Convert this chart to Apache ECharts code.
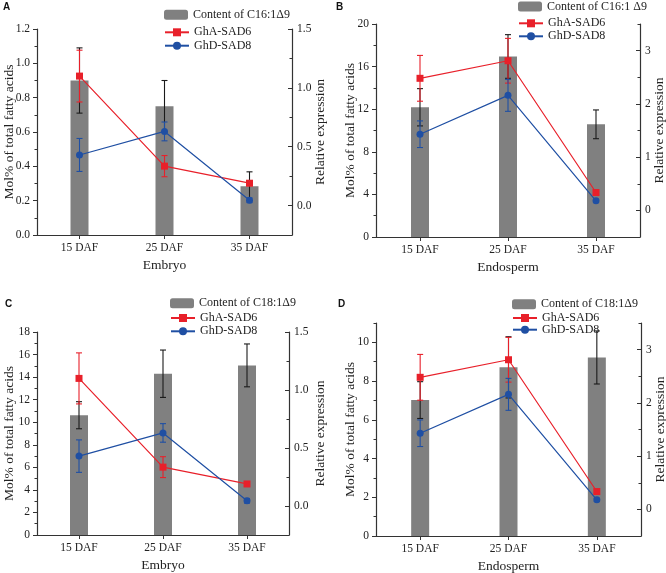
<!DOCTYPE html>
<html>
<head>
<meta charset="utf-8">
<script src="https://cdn.jsdelivr.net/npm/echarts@6.0.0/dist/echarts.min.js"></script>
<style>
  html, body { margin: 0; padding: 0; background: #fff; }
  #chart { width: 666px; height: 573px; }
</style>
</head>
<body>
<div id="chart"></div>
<script>
// categories
const cats = ['15 DAF', '25 DAF', '35 DAF'];

// bars (Mol% of total fatty acids) and their error
const barA = [0.90, 0.75, 0.284];
const barAErr = [0.19, 0.15, 0.084];
const barB = [12.18, 16.95, 10.58];
const barBErr = [1.75, 2.05, 1.35];
const barC = [10.62, 14.3, 15.04];
const barCErr = [1.2, 2.1, 1.9];
const barD = [7.02, 8.71, 9.22];
const barDErr = [0.95, 1.58, 1.37];

// relative expression, embryo (A, C)
const embA6 = [1.10, 0.335, 0.19];
const embA6Err = [0.22, 0.09, 0.02];
const embD8 = [0.43, 0.63, 0.045];
const embD8Err = [0.14, 0.08, 0.02];

// relative expression, endosperm (B, D)
const endA6 = [2.48, 2.81, 0.335];
const endA6Err = [0.43, 0.42, 0.03];
const endD8 = [1.43, 2.16, 0.18];
const endD8Err = [0.25, 0.30, 0.03];

// tick values
const ticksA = [0, 0.2, 0.4, 0.6, 0.8, 1.0, 1.2];
const ticksB = [0, 4, 8, 12, 16, 20];
const ticksC = [0, 2, 4, 6, 8, 10, 12, 14, 16, 18];
const ticksD = [0, 2, 4, 6, 8, 10];
const ticksEmb = [0, 0.5, 1.0, 1.5];
const ticksEnd = [0, 1, 2, 3];

const FONT = 'Liberation Serif';
const TXT = '#222';
const RED = '#e8202a';
const BLUE = '#1f4fa3';
const GRAY = '#808080';

const range = (a, b, s) => { const r = []; for (let v = a; v <= b + 1e-9; v += s) r.push(+v.toFixed(4)); return r; };

const panels = [
  { letter: 'A', grid: { left: 37, right: 374, top: 29, bottom: 338 },
    lMin: 0, lMax: 1.2, lTicks: ticksA, lMinor: range(0, 1.2, 0.1), lDec: 1,
    rMin: -0.25, rMax: 1.5, rTicks: ticksEmb, rMinor: range(-0.25, 1.5, 0.25), rDec: 1,
    bar: barA, barErr: barAErr, a6: embA6, a6Err: embA6Err, d8: embD8, d8Err: embD8Err,
    barName: 'Content of C16:1Δ9', xName: 'Embryo',
    lGap: 21, rGap: 21, leg: { left: 164, rows: [15.8, 33.3, 46.7] }, title: [3, 2] },
  { letter: 'B', grid: { left: 376, right: 26, top: 24, bottom: 336 },
    lMin: 0, lMax: 20, lTicks: ticksB, lMinor: range(0, 20, 2), lDec: 0,
    rMin: -0.5, rMax: 3.5, rTicks: ticksEnd, rMinor: range(-0.5, 3.5, 0.5), rDec: 0,
    bar: barB, barErr: barBErr, a6: endA6, a6Err: endA6Err, d8: endD8, d8Err: endD8Err,
    barName: 'Content of C16:1 Δ9', xName: 'Endosperm',
    lGap: 19, rGap: 12, leg: { left: 518, rows: [7.5, 24.3, 37.3] }, title: [336, 2] },
  { letter: 'C', grid: { left: 37, right: 377, top: 332, bottom: 38 },
    lMin: 0, lMax: 18, lTicks: ticksC, lMinor: range(0, 18, 1), lDec: 0,
    rMin: -0.25, rMax: 1.5, rTicks: ticksEmb, rMinor: range(-0.25, 1.5, 0.25), rDec: 1,
    bar: barC, barErr: barCErr, a6: embA6, a6Err: embA6Err, d8: embD8, d8Err: embD8Err,
    barName: 'Content of C18:1Δ9', xName: 'Embryo',
    lGap: 21, rGap: 24, leg: { left: 170, rows: [304.2, 319, 332.3] }, title: [5, 299] },
  { letter: 'D', grid: { left: 376, right: 25, top: 323, bottom: 37 },
    lMin: 0, lMax: 11, lTicks: ticksD, lMinor: range(0, 11, 1), lDec: 0,
    rMin: -0.5, rMax: 3.5, rTicks: ticksEnd, rMinor: range(-0.5, 3.5, 0.5), rDec: 0,
    bar: barD, barErr: barDErr, a6: endA6, a6Err: endA6Err, d8: endD8, d8Err: endD8Err,
    barName: 'Content of C18:1Δ9', xName: 'Endosperm',
    lGap: 19, rGap: 12, leg: { left: 512, rows: [305.3, 319, 330.7] }, title: [338, 299] }
];

const axisLine = { show: true, onZero: false, lineStyle: { color: '#333', width: 1.2 } };
const labelStyle = { fontFamily: FONT, fontSize: 11.5, color: TXT };
const nameStyle = { fontFamily: FONT, fontSize: 13.5, color: TXT };

// error bars drawn with the axis scales
function errSeries(gi, yi, vals, errs, color, z) {
  return {
    type: 'custom', xAxisIndex: gi, yAxisIndex: yi, z: z, silent: true,
    encode: { x: 0, y: [1, 2] },
    data: vals.map((v, i) => [i, v - errs[i], v + errs[i]]),
    renderItem: function (params, api) {
      const lo = api.coord([api.value(0), api.value(1)]);
      const hi = api.coord([api.value(0), api.value(2)]);
      const w = 3;
      const st = { stroke: color, lineWidth: 1.1 };
      return { type: 'group', children: [
        { type: 'line', shape: { x1: hi[0], y1: hi[1], x2: lo[0], y2: lo[1] }, style: st },
        { type: 'line', shape: { x1: hi[0] - w, y1: hi[1], x2: hi[0] + w, y2: hi[1] }, style: st },
        { type: 'line', shape: { x1: lo[0] - w, y1: lo[1], x2: lo[0] + w, y2: lo[1] }, style: st }
      ] };
    }
  };
}

const grid = [], xAxis = [], yAxis = [], series = [], legend = [], title = [];

panels.forEach((p, gi) => {
  grid.push(Object.assign({ outerBoundsMode: 'none', containLabel: false }, p.grid));
  title.push({ text: p.letter, left: p.title[0], top: p.title[1], padding: 0,
    textStyle: { fontFamily: 'Liberation Sans', fontWeight: 'bold', fontSize: 10, color: '#111' } });

  xAxis.push({
    type: 'category', gridIndex: gi, data: cats, boundaryGap: true,
    name: p.xName, nameLocation: 'middle', nameGap: 23, nameMoveOverlap: false, nameTextStyle: nameStyle,
    axisLine: axisLine,
    axisTick: { show: true, alignWithLabel: true, length: 4, lineStyle: { color: '#333' } },
    axisLabel: Object.assign({ margin: 7 }, labelStyle),
    splitLine: { show: false }
  });

  const base = yAxis.length;
  // left main
  yAxis.push({
    type: 'value', gridIndex: gi, position: 'left', min: p.lMin, max: p.lMax,
    name: 'Mol% of total fatty acids', nameLocation: 'middle', nameGap: p.lGap,
    nameMoveOverlap: false, nameTextStyle: nameStyle,
    axisLine: axisLine,
    axisTick: { show: true, customValues: p.lTicks, length: 4, lineStyle: { color: '#333' } },
    axisLabel: Object.assign({ margin: 7, customValues: p.lTicks, formatter: v => (+v).toFixed(p.lDec) }, labelStyle),
    splitLine: { show: false }
  });
  // right main
  yAxis.push({
    type: 'value', gridIndex: gi, position: 'right', min: p.rMin, max: p.rMax,
    name: 'Relative expression', nameLocation: 'middle', nameGap: p.rGap,
    nameMoveOverlap: false, nameTextStyle: nameStyle,
    axisLine: axisLine,
    axisTick: { show: true, inside: true, customValues: p.rTicks, length: 4, lineStyle: { color: '#333' } },
    axisLabel: Object.assign({ margin: 5, customValues: p.rTicks, formatter: v => (+v).toFixed(p.rDec) }, labelStyle),
    splitLine: { show: false }
  });
  // minor tick axes
  yAxis.push({
    type: 'value', gridIndex: gi, position: 'left', min: p.lMin, max: p.lMax,
    axisLine: { show: false }, axisLabel: { show: false }, splitLine: { show: false },
    axisTick: { show: true, customValues: p.lMinor, length: 2.5, lineStyle: { color: '#333' } }
  });
  yAxis.push({
    type: 'value', gridIndex: gi, position: 'right', min: p.rMin, max: p.rMax,
    axisLine: { show: false }, axisLabel: { show: false }, splitLine: { show: false },
    axisTick: { show: true, inside: true, customValues: p.rMinor, length: 2.5, lineStyle: { color: '#333' } }
  });

  series.push({
    name: p.barName, type: 'bar', xAxisIndex: gi, yAxisIndex: base, data: p.bar,
    barWidth: 18, itemStyle: { color: GRAY }, z: 2, silent: true
  });
  series.push(errSeries(gi, base, p.bar, p.barErr, '#1a1a1a', 3));
  series.push(errSeries(gi, base + 1, p.a6, p.a6Err, RED, 4));
  series.push(errSeries(gi, base + 1, p.d8, p.d8Err, BLUE, 4));
  series.push({
    name: 'GhA-SAD6', type: 'line', xAxisIndex: gi, yAxisIndex: base + 1, data: p.a6,
    symbol: 'rect', symbolSize: 7, itemStyle: { color: RED }, lineStyle: { color: RED, width: 1.2 },
    z: 5, silent: true
  });
  series.push({
    name: 'GhD-SAD8', type: 'line', xAxisIndex: gi, yAxisIndex: base + 1, data: p.d8,
    symbol: 'circle', symbolSize: 7, itemStyle: { color: BLUE }, lineStyle: { color: BLUE, width: 1.2 },
    z: 5, silent: true
  });

  [p.barName, 'GhA-SAD6', 'GhD-SAD8'].forEach((nm, k) => {
    legend.push({
      data: [nm], left: p.leg.left, top: p.leg.rows[k] - 7, padding: 0,
      itemWidth: 24, itemHeight: 10, selectedMode: false,
      textStyle: { fontFamily: FONT, fontSize: 12, color: TXT }
    });
  });
});

const chart = echarts.init(document.getElementById('chart'), null, { renderer: 'canvas' });
chart.setOption({
  animation: false,
  backgroundColor: '#fff',
  title: title,
  legend: legend,
  grid: grid,
  xAxis: xAxis,
  yAxis: yAxis,
  series: series
});
</script>
</body>
</html>
